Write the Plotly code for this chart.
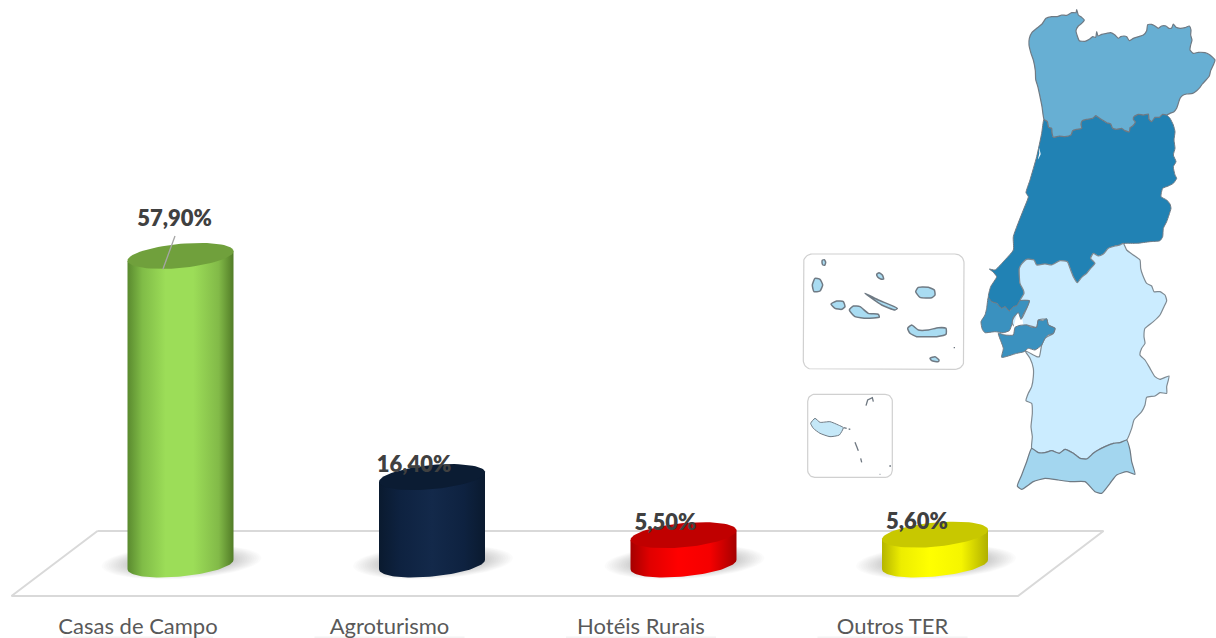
import numpy as np
import plotly.graph_objects as go

# Tourism-in-rural-areas shares by type of establishment
categories = ["Casas de Campo", "Agroturismo", "Hotéis Rurais", "Outros TER"]
shares = [57.9, 16.4, 5.5, 5.6]

W, H = 1216, 638
PX_PER_CAT = 251.5
PX_PER_PCT = 5.33
X0_PX, Y0_PX = 180.5, 564.5


def cat_x(px):
    return (np.asarray(px, float) - X0_PX) / PX_PER_CAT


def pct_y(py):
    return (Y0_PX - np.asarray(py, float)) / PX_PER_PCT


# Cylinder colours: side gradient and lid
side_scales = [
    [[0, "#5A8A2F"], [0.14, "#80BC47"], [0.36, "#9CDD58"], [0.62, "#9CDD58"], [0.86, "#82BA48"], [1, "#527C27"]],
    [[0, "#0A1A2F"], [0.2, "#0E2240"], [0.5, "#13294A"], [0.8, "#0E2240"], [1, "#0A1A2F"]],
    [[0, "#A50000"], [0.18, "#E00000"], [0.45, "#FF0000"], [0.75, "#F50000"], [1, "#A50000"]],
    [[0, "#B5B500"], [0.18, "#EDED00"], [0.45, "#FFFF00"], [0.75, "#F5F500"], [1, "#B0B000"]],
]
lid_colors = ["#70A03C", "#0B1C33", "#C00000", "#C8C800"]

RX = 53.0     # cylinder half width
TILT = 4.75   # rise of the ellipse's right end
RY = 12.1     # ellipse half height

fig = go.Figure()


def area(xs, ys, color=None, line=None, width=0, gradient=None, axes=("x", "y"), smooth=False):
    xs = list(xs) + [xs[0]]
    ys = list(ys) + [ys[0]]
    line_style = dict(color=line or "rgba(0,0,0,0)", width=width)
    if smooth:
        line_style.update(shape="spline", smoothing=0.5)
    trace = dict(
        x=xs, y=ys, xaxis=axes[0], yaxis=axes[1], mode="lines", fill="toself",
        line=line_style, hoverinfo="skip", showlegend=False,
    )
    if gradient:
        trace["fillgradient"] = dict(type="horizontal", colorscale=gradient)
    else:
        trace["fillcolor"] = color
    fig.add_trace(go.Scatter(**trace))


def ellipse_px(cx, cy, t):
    return cx + RX * np.cos(t), cy - TILT * np.cos(t) + RY * np.sin(t)


# Floor outline
floor_px = [(97.5, 531), (1103.5, 531), (1018, 596), (11.5, 596), (97.5, 531)]
fig.add_trace(go.Scatter(
    x=cat_x([p[0] for p in floor_px]), y=pct_y([p[1] for p in floor_px]),
    mode="lines", line=dict(color="#D9D9D9", width=2), hoverinfo="skip", showlegend=False,
))

# Soft shadows under the cylinders, built from stacked translucent ellipses
t_full = np.linspace(0, 2 * np.pi, 73)
for i in range(len(shares)):
    cx = X0_PX + i * PX_PER_CAT
    for k in np.linspace(1.0, 0.62, 14):
        sx = cx + 1 + 80 * k * np.cos(t_full)
        sy = 562 - 4 * k * np.cos(t_full) + 17 * k * np.sin(t_full)
        area(cat_x(sx)[:-1], pct_y(sy)[:-1], color="rgba(0,0,0,0.014)")

# Cylinders: height comes from the share
t_low = np.linspace(np.pi, 0, 61)
for i, v in enumerate(shares):
    cx = i * PX_PER_CAT + X0_PX
    top_py = Y0_PX - v * PX_PER_PCT
    bx, by = ellipse_px(cx, Y0_PX, t_low)
    tx, ty = ellipse_px(cx, top_py, np.array([0.0, np.pi]))
    area(cat_x(np.r_[bx, tx]), pct_y(np.r_[by, ty]), gradient=side_scales[i])
    lx, ly = ellipse_px(cx, top_py, t_full)
    area(cat_x(lx)[:-1], pct_y(ly)[:-1], color=lid_colors[i])

# Leader line of the first label
fig.add_trace(go.Scatter(
    x=[cat_x(175), cat_x(163)], y=[pct_y(236), pct_y(269)], mode="lines",
    line=dict(color="#A6A6A6", width=1.3), hoverinfo="skip", showlegend=False,
))

# Value labels
label_dx = [-6, -18, -18, -18]
label_dy = [35, 11, 11, 11]
fig.add_trace(go.Scatter(
    x=[i + dx / PX_PER_CAT for i, dx in enumerate(label_dx)],
    y=[v + dy / PX_PER_PCT for v, dy in zip(shares, label_dy)],
    mode="text",
    text=[f"{v:.2f}%".replace(".", ",") for v in shares],
    textposition="middle center",
    textfont=dict(family="Lato", size=22, color="#404040", weight=800),
    hoverinfo="skip", showlegend=False,
))

# Faint band under each category label
for i in range(len(categories)):
    cx = X0_PX + i * PX_PER_CAT - 42.5
    area(cat_x([cx - 75, cx + 75, cx + 75, cx - 75]), pct_y([636.5, 636.5, 638, 638]), color="#F4F4F4")

# Category labels
fig.add_trace(go.Scatter(
    x=[i - 42.5 / PX_PER_CAT for i in range(len(categories))],
    y=[pct_y(628)] * len(categories),
    mode="text", text=categories, textposition="middle center",
    textfont=dict(family="Lato", size=22, color="#595959"),
    hoverinfo="skip", showlegend=False,
))

# Map of mainland Portugal. Outlines are traced at 3x scale:
# the *_n lists around (970, 0), the *_s lists around (970, 240).
norte_outer_n = [(222,358),(216,320),(210,290),(204,262),(197,238),(196,212),(190,180),(183,160),(177,135),(178,115),
                 (186,97),(200,85),(216,72),(228,55),(245,50),(262,50),(275,45),(290,46),(305,38),(318,38),(320,29),
                 (325,45),(335,52),(343,60),(335,70),(325,78),(318,92),(322,108),(328,122),(345,124),(358,118),(368,110),
                 (377,112),(380,95),(384,108),(395,103),(410,100),(422,98),(435,105),(445,115),(452,110),(462,108),
                 (470,110),(478,122),(490,115),(505,110),(520,105),(530,92),(533,74),(545,73),(555,78),(565,85),(575,78),
                 (588,78),(597,85),(605,84),(610,72),(618,82),(630,85),(645,83),(658,78),(663,90),(662,105),(666,120),
                 (662,135),(660,150),(670,160),(685,157),(705,158),(720,165),(735,180),(730,195),(722,212),(718,228),
                 (708,240),(697,252),(690,262),(680,272),(668,280),(650,282),(640,285),(630,295),(625,310),(620,325),
                 (612,335),(600,340)]
norte_centro_border_n = [(590,345),(578,343),(568,352),(555,352),(545,365),(537,358),(535,342),(520,345),(505,343),
                         (492,350),(490,358),(496,366),(488,378),(480,383),(478,395),(465,392),(455,385),(440,388),
                         (428,385),(422,372),(410,368),(397,360),(385,352),(377,347),(368,355),(350,358),(337,362),
                         (333,372),(335,385),(320,388),(308,392),(303,405),(285,410),(268,408),(250,412),(246,398),
                         (245,385),(236,382),(232,365)]
centro_east_n = [(600,355),(610,375),(615,395),(612,420),(615,445),(610,465),(618,485),(610,500),(615,525),(620,535),
                 (610,550),(595,558),(578,565),(573,590),(590,600),(600,612),(603,625),(597,645),(590,665),(580,685),
                 (578,710),(570,722)]
centro_south_edge_s = [(540,5),(500,10),(465,10)]
centro_alentejo_border_s = [(450,15),(435,18),(415,25),(400,42),(385,48),(370,40),(362,55),
                            (375,70),(362,85),(350,100),(335,112),(322,128),(310,110),(300,85),(292,65),(270,62),
                            (245,75),(225,72),(200,75),(192,60),(170,58),(155,72),(148,85),(150,130),(160,150),(162,160),
                            (150,182)]
centro_west_s = [(140,197),(130,200),(118,213),(105,200),(95,205),(80,190),(65,185),(55,172),(62,140),(80,110),(68,95),
                 (58,87),(75,90),(100,65),(130,30),(130,-10)]
centro_coast_n = [(160,630),(175,590),(168,578),(180,540),(200,470),(215,400)]
aveiro_n = [(207,444),(212,462),(204,478),(208,460)]

lisboa_s = [(55,172),(65,185),(80,190),(95,205),(105,200),(118,213),(130,200),(140,197),(150,182),(178,182),(172,200),
            (160,222),(153,238),(145,218),(130,232),(125,255),(118,272),(100,278),(75,275),(45,278),(37,268),(33,245),
            (45,225),(50,205)]
setubal_s = [(85,280),(105,285),(130,285),(135,262),(150,256),(170,255),(185,262),(200,262),(205,240),(218,242),(230,236),
             (235,255),(255,265),(250,280),(235,285),(225,295),(215,315),(195,330),(175,325),(162,335),(140,340),(95,352),
             (100,325)]
estuary_s = [(144,216),(132,255),(123,279),(159,255),(156,234)]
alentejo_outer_s = [(460,10),(470,30),(490,45),(510,60),(512,85),(518,105),(530,130),(545,138),(552,155),(570,155),
                    (585,165),(590,182),(582,200),(570,225),(550,245),(525,265),(522,290),(525,310),(515,325),(510,345),
                    (525,360),(540,385),(555,410),(570,418),(597,408),(590,440),(590,460),(570,458),(555,468),(530,472),
                    (525,495),(515,515),(492,540),(485,565),(470,600),(450,608),(430,610),(405,620),(385,630),(370,640),
                    (350,657),(330,655),(310,640),(285,628),(268,640),(245,632),(225,638),(205,638),(185,625),(187,590),
                    (183,560),(187,520),(185,490),(168,482),(175,460),(185,440),(190,410),(190,385),(180,355),(165,332),
                    (200,350),(208,350),(215,315),(225,295),(250,280),(255,265),(235,255),(230,238),(205,240),(200,262),
                    (170,255),(135,262),(125,245),(145,215),(155,235),(170,205),(178,182)]
algarve_s = [(185,625),(205,638),(225,638),(245,632),(268,640),(285,628),(310,640),(330,655),(350,657),(370,640),(385,630),
             (405,620),(430,610),(450,608),(470,600),(480,630),(485,665),(495,703),(470,695),(440,705),(420,730),(395,760),
             (375,755),(345,725),(300,725),(265,720),(225,715),(190,725),(155,748),(142,738),(155,705),(170,665)]

# Azores and Madeira insets, traced at 3x scale around (795, 245)
corvo = [(82,46),(88,44),(92,52),(89,61),(83,59),(81,52)]
flores = [(52,120),(60,100),(75,103),(83,120),(75,138),(57,140)]
graciosa = [(245,88),(252,83),(262,90),(266,102),(257,102),(248,96)]
terceira = [(362,140),(370,127),(400,127),(418,135),(420,150),(410,158),(375,157)]
sao_jorge = [(210,145),(250,165),(307,190),(300,195),(260,180)]
faial = [(108,177),(125,168),(145,170),(150,185),(140,193),(120,190)]
pico = [(163,195),(175,183),(195,185),(220,205),(250,208),(253,216),(215,220),(180,215)]
sao_miguel = [(338,250),(350,240),(370,255),(400,255),(430,248),(453,250),(453,268),(425,275),(395,275),(365,275),(345,265)]
santa_maria = [(405,340),(420,335),(432,345),(430,350),(410,347)]
madeira = [(47,535),(60,520),(75,532),(105,530),(130,540),(145,548),(133,570),(105,575),(75,565),(55,550)]
small_marks = [[(213,482),(218,465),(232,458),(235,470)], [(146,548),(155,550)], [(161,552),(166,553)],
               [(180,592),(190,617)], [(197,640),(200,652)], [(283,663),(288,663)], [(476,308),(480,308)], [(254,688),(256,688)]]

MAP_AXES = ("x2", "y2")
OUTLINE = "#6F7A84"


def north(pts):
    return [970 + p[0] / 3 for p in pts], [p[1] / 3 for p in pts]


def south(pts):
    return [970 + p[0] / 3 for p in pts], [240 + p[1] / 3 for p in pts]


def inset(pts):
    return [795 + p[0] / 3 for p in pts], [245 + p[1] / 3 for p in pts]


def region(parts, **kw):
    xs, ys = [], []
    for conv, pts in parts:
        px, py = conv(pts)
        xs += px
        ys += py
    area(xs, ys, axes=MAP_AXES, smooth=True, **kw)


def rounded_box(x0, y0, x1, y1, r):
    xs, ys = [], []
    for cx, cy, start in [(x1 - r, y0 + r, -90), (x1 - r, y1 - r, 0), (x0 + r, y1 - r, 90), (x0 + r, y0 + r, 180)]:
        a = np.radians(np.linspace(start, start + 90, 10))
        xs += list(cx + r * np.cos(a))
        ys += list(cy + r * np.sin(a))
    return xs + xs[:1], ys + ys[:1]


region([(north, [(222, 358)] + norte_centro_border_n[::-1] + centro_east_n),
        (south, centro_south_edge_s + centro_alentejo_border_s + centro_west_s),
        (north, centro_coast_n)], color="#2182B4", line=OUTLINE, width=1)
region([(north, aveiro_n)], color="white")
region([(north, norte_outer_n + norte_centro_border_n)], color="#67AFD3", line=OUTLINE, width=1.2)
region([(south, alentejo_outer_s + centro_alentejo_border_s[::-1])], color="#CBECFF", line="#7F8A92", width=1.2)
region([(south, algarve_s)], color="#A3D6EF", line=OUTLINE, width=1.2)
region([(south, estuary_s)], color="white")
region([(south, lisboa_s)], color="#3A91BF", line=OUTLINE, width=1)
region([(south, setubal_s)], color="#3A91BF", line=OUTLINE, width=1)

for box in [(803.3, 254, 964, 369.3, 9), (807.7, 394.3, 892.3, 477.3, 7)]:
    bx, by = rounded_box(*box)
    fig.add_trace(go.Scatter(x=bx, y=by, xaxis="x2", yaxis="y2", mode="lines",
                             line=dict(color="#D0D0D0", width=1.2), hoverinfo="skip", showlegend=False))

for island in [corvo, flores, graciosa, terceira, sao_jorge, faial, pico, sao_miguel, santa_maria]:
    region([(inset, island)], color="#A9DCF2", line=OUTLINE, width=1.5)
region([(inset, madeira)], color="#C5E8F8", line=OUTLINE, width=1)
for mark in small_marks:
    mx, my = inset(mark)
    fig.add_trace(go.Scatter(x=mx, y=my, xaxis="x2", yaxis="y2", mode="lines",
                             line=dict(color="#6E7780", width=1.3), hoverinfo="skip", showlegend=False))

fig.update_layout(
    width=W, height=H, margin=dict(l=0, r=0, t=0, b=0),
    paper_bgcolor="white", plot_bgcolor="white", showlegend=False,
    xaxis=dict(range=[float(cat_x(0)), float(cat_x(W))], visible=False, domain=[0, 1], fixedrange=True),
    yaxis=dict(range=[float(pct_y(H)), float(pct_y(0))], visible=False, domain=[0, 1], fixedrange=True),
    xaxis2=dict(range=[0, W], visible=False, overlaying="x", anchor="y2", fixedrange=True),
    yaxis2=dict(range=[H, 0], visible=False, overlaying="y", anchor="x2", fixedrange=True),
)

fig.write_html("out.html", config=dict(displayModeBar=False))
